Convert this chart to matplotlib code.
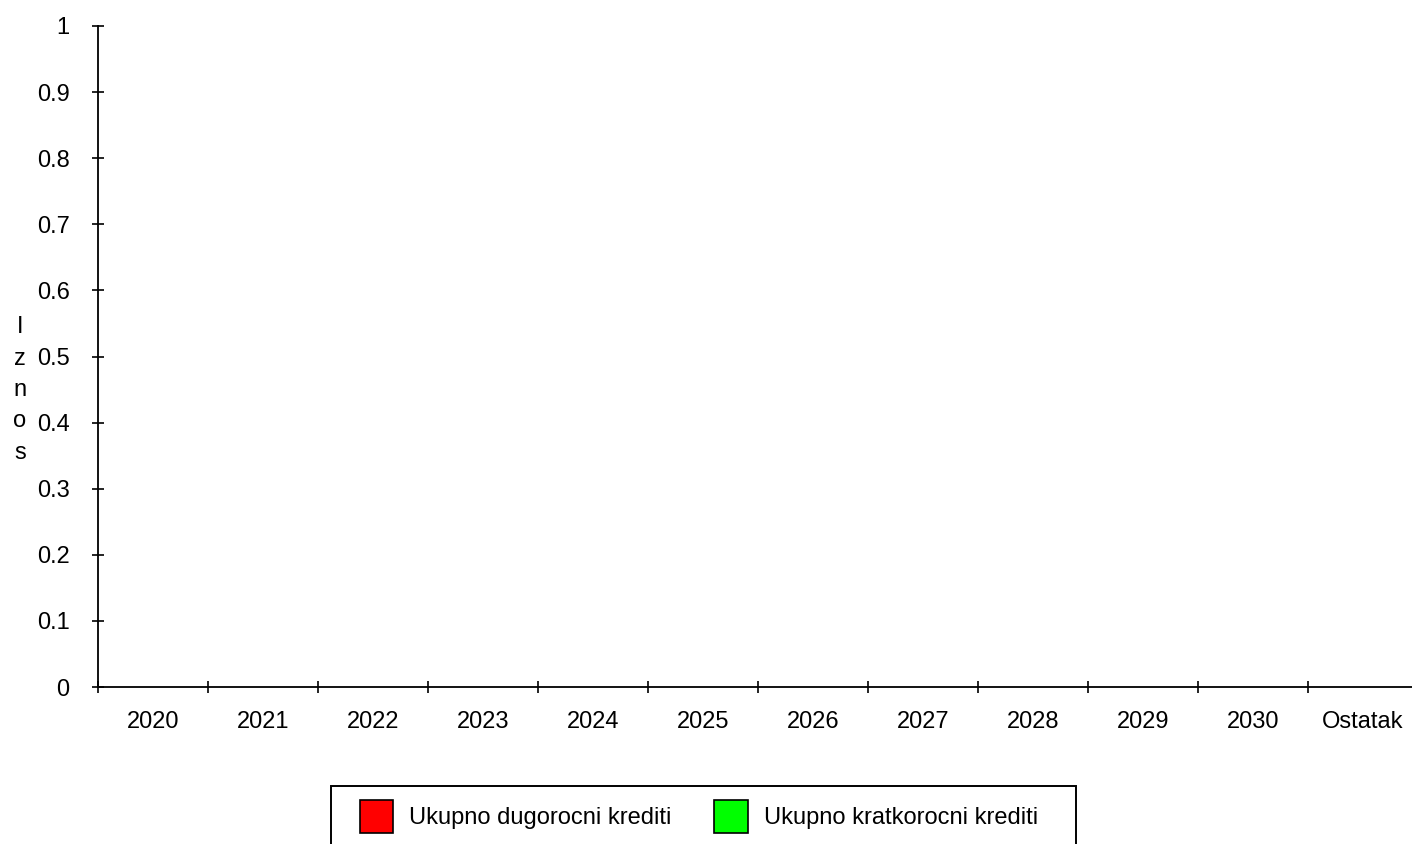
import matplotlib
matplotlib.use("Agg")
import matplotlib.pyplot as plt
from matplotlib.patches import Patch, Rectangle

plt.rcParams['font.family'] = ['Liberation Sans', 'DejaVu Sans']

categories = ["2020", "2021", "2022", "2023", "2024", "2025", "2026", "2027",
              "2028", "2029", "2030", "Ostatak"]
dugorocni = [0, 0, 0, 0, 0, 0, 0, 0, 0, 0, 0, 0]
kratkorocni = [0, 0, 0, 0, 0, 0, 0, 0, 0, 0, 0, 0]
y_ticks = [0, 0.1, 0.2, 0.3, 0.4, 0.5, 0.6, 0.7, 0.8, 0.9, 1]
y_labels = ["0", "0.1", "0.2", "0.3", "0.4", "0.5", "0.6", "0.7", "0.8", "0.9", "1"]
series_names = ["Ukupno dugorocni krediti", "Ukupno kratkorocni krediti"]
colors = ["#ff0000", "#00ff00"]

FS = 17
W, H = 1412, 844
fig = plt.figure(figsize=(W / 100, H / 100), dpi=100)
left, right, top, bottom = 98, 1418, 26, 687
ax = fig.add_axes([left / W, 1 - bottom / H, (right - left) / W, (bottom - top) / H])

n = len(categories)
centers = [i + 0.5 for i in range(n)]
bw = 0.35
ax.bar([c - bw / 2 for c in centers], dugorocni, width=bw, color=colors[0], linewidth=0)
ax.bar([c + bw / 2 for c in centers], kratkorocni, width=bw, color=colors[1], linewidth=0)

ax.set_xlim(0, n)
ax.set_ylim(0, 1)
for s in ("top", "right"):
    ax.spines[s].set_visible(False)
for s in ("left", "bottom"):
    ax.spines[s].set_linewidth(1.3)
    ax.spines[s].set_color("black")

ax.set_xticks(list(range(n)))
ax.set_xticklabels([])
ax.set_xticks(centers, minor=True)
ax.set_xticklabels(categories, minor=True, fontsize=FS)
ax.tick_params(axis="x", which="major", direction="inout", length=9, width=1.2)
ax.tick_params(axis="x", which="minor", length=0, pad=17)

ax.set_yticks(y_ticks)
ax.set_yticklabels(y_labels, fontsize=FS)
ax.tick_params(axis="y", which="major", direction="inout", length=9, width=1.2, pad=16)

fig.text(20 / W, 1 - 390 / H, "I\nz\nn\no\ns", ha="center", va="center",
         fontsize=FS, linespacing=1.55)

# legend frame (extends past the bottom edge of the figure)
fig.patches.append(Rectangle((331 / W, -20 / H), (1076 - 331) / W, (844 + 20 - 786) / H,
                             transform=fig.transFigure, facecolor="none",
                             edgecolor="black", linewidth=1.4, zorder=1))

handles = [Patch(facecolor=colors[i], edgecolor="black", linewidth=1.2) for i in range(2)]
leg = fig.legend(handles, series_names, loc="upper left",
                 bbox_to_anchor=(360 / W, 1 - 800 / H), ncol=2, fontsize=FS,
                 frameon=False, handlelength=1.4, handleheight=1.78, handletextpad=0.68,
                 columnspacing=1.82, borderpad=0, borderaxespad=0)

fig.savefig("out.png", dpi=100)
